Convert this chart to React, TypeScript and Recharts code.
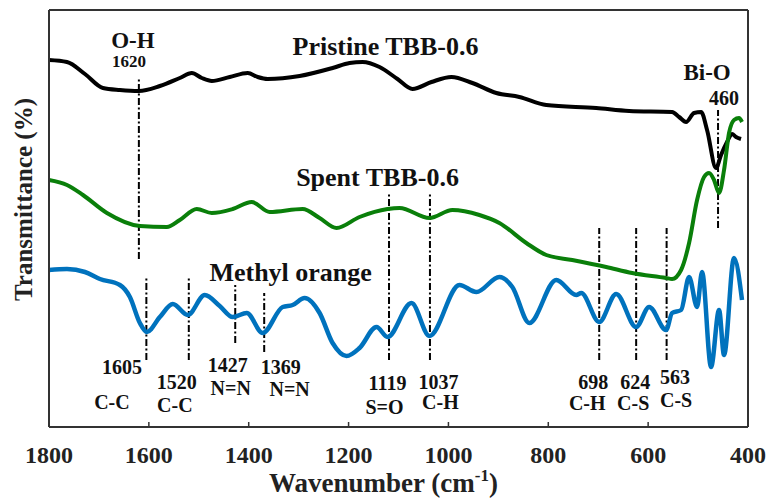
import { LineChart, Line, XAxis, YAxis, ReferenceLine, ReferenceDot } from 'recharts'

// wavenumber (cm-1) / transmittance (a.u.) pairs
const pristineWn = [1800, 1764, 1728, 1692, 1658, 1620, 1578, 1538, 1514, 1494, 1474, 1438, 1402, 1382, 1362, 1298, 1232, 1198, 1172, 1138, 1102, 1072, 1034, 994, 952, 904, 858, 804, 704, 638, 552, 538, 524, 508, 494, 482, 464, 454, 442, 432, 424, 414]
const pristineT = [367, 365, 353, 339, 337, 336, 341, 349, 354, 349, 346, 350, 354, 350, 348, 351, 359, 364, 365, 360, 348, 338, 345, 350, 344, 334, 330, 322, 319, 316, 315, 310, 305, 314, 315, 297, 259, 272, 285, 293, 290, 288]

const spentWn = [1800, 1764, 1732, 1684, 1618, 1564, 1538, 1504, 1474, 1432, 1394, 1358, 1292, 1258, 1224, 1178, 1122, 1098, 1038, 992, 938, 898, 844, 804, 752, 684, 632, 564, 552, 534, 518, 502, 488, 478, 468, 458, 448, 438, 428, 418, 412]
const spentT = [247, 242, 232, 214, 201, 200, 207, 218, 214, 218, 225, 215, 218, 209, 199, 210, 218, 219, 209, 217, 212, 204, 184, 172, 167, 160, 154, 149, 148, 157, 184, 227, 250, 254, 247, 234, 257, 294, 307, 309, 305]

const moWn = [1800, 1764, 1728, 1698, 1658, 1638, 1618, 1604, 1578, 1552, 1522, 1488, 1458, 1432, 1404, 1372, 1332, 1312, 1288, 1258, 1232, 1204, 1178, 1144, 1122, 1074, 1038, 978, 944, 898, 872, 838, 784, 744, 734, 698, 664, 624, 598, 564, 552, 534, 518, 502, 492, 474, 458, 448, 428, 412]
const moT = [157, 158, 155, 148, 142, 130, 104, 95, 110, 123, 112, 132, 121, 110, 114, 94, 120, 122, 129, 114, 84, 71, 79, 100, 90, 124, 91, 142, 135, 150, 140, 104, 147, 132, 134, 105, 133, 100, 120, 97, 114, 117, 150, 120, 155, 60, 117, 72, 169, 127]

const xTicks = [1800, 1600, 1400, 1200, 1000, 800, 600, 400]

// peak markers: wavenumber, from, to
const markWn = [1620, 1605, 1520, 1427, 1369, 1119, 1037, 698, 624, 563, 460]
const markLo = [168, 67, 67, 84, 75, 67, 67, 67, 67, 67, 199]
const markHi = [349, 150, 150, 142, 134, 234, 234, 199, 199, 199, 317]

// text annotations
const noteText = ['O-H', '1620', 'Pristine TBB-0.6', 'Spent TBB-0.6', 'Methyl orange', 'Bi-O', '460',
  '1605', 'C-C', '1520', 'C-C', '1427', 'N=N', '1369', 'N=N', '1119', 'S=O', '1037', 'C-H', '698', 'C-H', '624', 'C-S', '563', 'C-S']
const noteWn = [1632, 1640, 1126, 1142, 1316, 482, 448,
  1654, 1674, 1544, 1548, 1442, 1436, 1336, 1318, 1122, 1128, 1020, 1016, 710, 722, 626, 630, 546, 544]
const noteT = [387, 366, 381, 250, 155, 355, 329,
  60, 25, 45, 22, 62, 39, 60, 38, 44, 20, 45, 25, 45, 24, 45, 24, 50, 27]
const noteSize = [23, 17, 26, 26, 26, 23, 20,
  20, 20, 20, 20, 20, 20, 20, 20, 20, 20, 20, 20, 20, 20, 20, 20, 20, 20]

const FONT = '"Liberation Serif", "Times New Roman", serif'
const FRAME = '#333'

const pristine = pristineWn.map((wn, i) => ({ wn, t: pristineT[i] }))
const spent = spentWn.map((wn, i) => ({ wn, t: spentT[i] }))
const mo = moWn.map((wn, i) => ({ wn, t: moT[i] }))

const BottomTick = (p: any) => (
  <g>
    <line x1={p.x} x2={p.x} y1={p.y} y2={p.y - 5} stroke={FRAME} strokeWidth={1.5} />
    <text x={p.x} y={p.y + 36} textAnchor="middle" fontFamily={FONT} fontWeight="bold" fontSize={24} fill="#222">
      {p.payload.value}
    </text>
  </g>
)

const TopTick = (p: any) => (
  <line x1={p.x} x2={p.x} y1={p.y} y2={p.y + 5} stroke={FRAME} strokeWidth={1.5} />
)

const XLabel = (p: any) => {
  const vb = p.viewBox
  return (
    <text x={vb.x + vb.width / 2 - 15} y={vb.y + 65} textAnchor="middle" fontFamily={FONT} fontWeight="bold" fontSize={27} fill="#222">
      Wavenumber (cm<tspan dy={-11} fontSize={17}>-1</tspan><tspan dy={11}>)</tspan>
    </text>
  )
}

const YLabel = (p: any) => {
  const vb = p.viewBox
  const cx = 23
  const cy = vb.y + vb.height / 2 - 19
  return (
    <text x={cx} y={cy} transform={`rotate(-90 ${cx} ${cy})`} textAnchor="middle" dominantBaseline="central"
      fontFamily={FONT} fontWeight="bold" fontSize={25} fill="#222">
      Transmittance (%)
    </text>
  )
}

export default function App() {
  return (
    <div style={{ position: 'absolute', left: 0, top: 0, background: '#fff' }}>
      <LineChart width={771} height={498} margin={{ top: 0, right: 0, bottom: 0, left: 0 }}>
        <XAxis xAxisId="b" type="number" dataKey="wn" domain={[400, 1800]} reversed ticks={xTicks}
          height={71} tickSize={0} tickMargin={0} tickLine={false} tick={BottomTick}
          axisLine={{ stroke: FRAME, strokeWidth: 2 }} label={{ content: XLabel }} />
        <XAxis xAxisId="top" orientation="top" type="number" dataKey="wn" domain={[400, 1800]} reversed ticks={xTicks}
          height={10} tickSize={0} tickMargin={0} tickLine={false} tick={TopTick}
          axisLine={{ stroke: FRAME, strokeWidth: 2 }} />
        <YAxis yAxisId="l" type="number" domain={[0, 417]} width={49} tick={false} tickLine={false}
          axisLine={{ stroke: FRAME, strokeWidth: 2 }} label={{ content: YLabel }} />
        <YAxis yAxisId="r" orientation="right" type="number" domain={[0, 417]} width={23} tick={false} tickLine={false}
          axisLine={{ stroke: FRAME, strokeWidth: 2 }} />

        {markWn.map((wn, i) => (
          <ReferenceLine key={'m' + i} xAxisId="b" yAxisId="l"
            segment={[{ x: wn, y: markLo[i] }, { x: wn, y: markHi[i] }]}
            stroke="#000" strokeWidth={2} strokeDasharray="7 2.5 2 2.5" />
        ))}

        <Line xAxisId="b" yAxisId="l" data={pristine} dataKey="t" type="monotone" stroke="#000" strokeWidth={4}
          dot={false} isAnimationActive={false} />
        <Line xAxisId="b" yAxisId="l" data={spent} dataKey="t" type="monotone" stroke="#0a7f0a" strokeWidth={4}
          dot={false} isAnimationActive={false} />
        <Line xAxisId="b" yAxisId="l" data={mo} dataKey="t" type="monotone" stroke="#0072bd" strokeWidth={4.5}
          dot={false} isAnimationActive={false} />

        {noteText.map((txt, i) => (
          <ReferenceDot key={'n' + i} xAxisId="b" yAxisId="l" x={noteWn[i]} y={noteT[i]} r={0}
            shape={(p: any) => (
              <text x={p.cx} y={p.cy} textAnchor="middle" dominantBaseline="central" fontFamily={FONT}
                fontWeight="bold" fontSize={noteSize[i]} fill="#111">
                {txt}
              </text>
            )} />
        ))}
      </LineChart>
    </div>
  )
}
